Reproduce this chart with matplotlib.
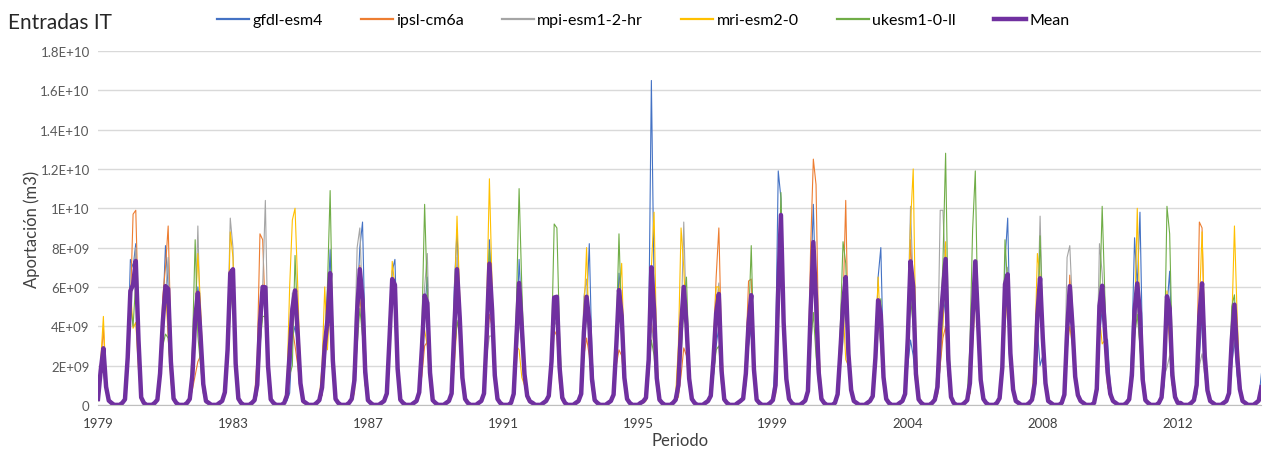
import numpy as np
import matplotlib
matplotlib.use("Agg")
import matplotlib.pyplot as plt

# monthly inflow, Jan..Dec, one row per year 1979-2014, units of 1e9 m3
start_year = 1979
tick_step = 50
tick_labels = ["1979", "1983", "1987", "1991", "1995", "1999", "2004", "2008", "2012"]
y_ticks = [0, 2e9, 4e9, 6e9, 8e9, 1e10, 1.2e10, 1.4e10, 1.6e10, 1.8e10]
y_labels = ["0", "2E+09", "4E+09", "6E+09", "8E+09", "1E+10", "1.2E+10", "1.4E+10", "1.6E+10", "1.8E+10"]

gfdl = [
    [.3, 1.5, 2.2, .8, .2, .1, 0, 0, 0, .1, .3, 2.5],
    [7.4, 7.0, 8.2, 3.5, .4, .1, 0, 0, 0, .1, .3, 1.5],
    [4.5, 8.1, 6.0, 2.0, .3, .1, 0, 0, 0, .1, .3, 1.0],
    [3.5, 6.0, 4.5, 1.2, .2, .1, 0, 0, 0, .1, .2, .5],
    [2.5, 5.5, 6.5, 2.2, .3, .1, 0, 0, 0, .1, .2, .6],
    [3.0, 5.0, 6.0, 2.0, .3, .1, 0, 0, 0, .1, .2, .6],
    [3.4, 4.0, 3.0, 1.0, .2, .1, 0, 0, 0, .1, .2, .5],
    [2.0, 4.5, 7.9, 2.5, .3, .1, 0, 0, 0, .1, .3, 1.0],
    [5.0, 8.0, 9.3, 3.0, .4, .1, 0, 0, 0, .1, .2, .5],
    [3.0, 6.8, 7.4, 2.5, .3, .1, 0, 0, 0, .1, .2, .5],
    [2.5, 4.8, 6.5, 2.0, .3, .1, 0, 0, 0, .1, .2, .6],
    [6.0, 8.9, 5.0, 1.5, .3, .1, 0, 0, 0, .1, .2, .5],
    [4.0, 8.4, 5.5, 1.5, .3, .1, 0, 0, 0, .1, .6, 3.0],
    [7.4, 4.5, 1.8, .5, .2, .1, 0, 0, 0, .1, .2, .4],
    [2.0, 5.0, 5.5, 2.0, .4, .1, 0, 0, 0, .1, .2, .5],
    [3.0, 5.0, 8.2, 2.5, .4, .1, 0, 0, 0, .1, .2, .5],
    [3.0, 6.7, 5.0, 1.5, .3, .1, 0, 0, 0, .1, .2, .4],
    [3.5, 16.5, 6.0, 1.5, .3, .1, 0, 0, 0, .1, .2, .5],
    [3.0, 5.8, 4.0, 1.5, .3, .1, 0, 0, 0, .1, .2, .4],
    [1.5, 3.0, 4.0, 1.2, .2, .1, 0, 0, 0, .1, .2, .3],
    [1.0, 3.0, 3.9, 1.5, .2, .1, 0, 0, 0, .1, .4, 2.5],
    [11.9, 10.5, 4.0, 1.2, .3, .1, 0, 0, 0, .1, .2, .8],
    [6.0, 10.2, 5.0, 1.5, .3, .1, 0, 0, 0, .1, .4, 2.0],
    [4.0, 6.5, 2.5, .8, .2, .1, 0, 0, 0, .1, .2, .4],
    [2.5, 6.5, 8.0, 2.0, .3, .1, 0, 0, 0, .1, .2, .4],
    [2.0, 3.3, 2.5, 1.0, .2, .1, 0, 0, 0, .1, .2, .5],
    [2.0, 4.4, 5.5, 1.5, .3, .1, 0, 0, 0, .1, .2, .6],
    [3.5, 6.5, 5.0, 1.5, .3, .1, 0, 0, 0, .1, .4, 2.5],
    [7.3, 9.5, 3.0, .8, .2, .1, 0, 0, 0, .1, .2, .5],
    [3.8, 2.0, 2.5, .8, .2, .1, 0, 0, 0, .1, .5, 2.5],
    [6.0, 4.0, 1.5, .5, .2, .1, 0, 0, 0, .1, .6, 3.5],
    [4.9, 3.5, 3.3, 1.0, .2, .1, 0, 0, 0, .1, .4, 3.0],
    [8.5, 6.0, 9.8, 2.5, .4, .1, 0, 0, 0, .1, .3, 1.0],
    [5.0, 6.8, 2.0, .5, .1, .1, 0, 0, 0, .1, .2, .5],
    [2.5, 4.5, 2.5, .8, .2, .1, 0, 0, 0, .1, .2, .5],
    [2.0, 3.3, 1.5, .6, .2, .1, 0, 0, 0, .1, .3, 1.6],
]

ipsl = [
    [.4, 2.0, 3.9, 1.2, .3, .1, 0, 0, 0, .1, .2, 2.0],
    [5.0, 9.7, 9.9, 4.5, .6, .1, 0, 0, 0, .1, .3, 1.8],
    [5.5, 7.0, 9.1, 3.5, .5, .1, 0, 0, 0, .1, .2, .8],
    [1.5, 2.2, 2.5, 1.0, .2, .1, 0, 0, 0, .1, .2, .6],
    [2.5, 5.0, 6.0, 2.5, .4, .1, 0, 0, 0, .1, .4, 2.5],
    [8.7, 8.4, 4.5, 1.5, .2, .1, 0, 0, 0, .1, .5, 2.0],
    [3.9, 3.0, 2.0, .8, .1, .1, 0, 0, 0, .1, .2, .5],
    [2.5, 4.2, 4.0, 1.5, .2, .1, 0, 0, 0, .1, .3, 1.0],
    [4.0, 7.1, 5.0, 1.8, .2, .1, 0, 0, 0, .1, .2, .6],
    [3.5, 6.2, 5.5, 1.5, .2, .1, 0, 0, 0, .1, .2, .6],
    [1.5, 3.0, 3.2, 1.2, .2, .1, 0, 0, 0, .1, .2, .4],
    [2.0, 4.2, 3.8, 1.2, .3, .1, 0, 0, 0, .1, .2, .5],
    [2.5, 4.6, 4.0, 1.5, .3, .1, 0, 0, 0, .1, .5, 4.0],
    [5.5, 5.0, 1.8, .5, .2, .1, 0, 0, 0, .1, .2, .4],
    [1.5, 3.8, 3.5, 1.0, .2, .1, 0, 0, 0, .1, .2, .4],
    [2.5, 3.4, 2.5, .8, .2, .1, 0, 0, 0, .1, .2, .4],
    [2.0, 2.8, 2.5, 1.0, .3, .1, 0, 0, 0, .1, .2, .5],
    [2.5, 4.2, 3.0, 1.0, .2, .1, 0, 0, 0, .1, .2, .4],
    [1.5, 2.9, 2.5, 1.0, .3, .1, 0, 0, 0, .1, .2, .6],
    [3.0, 6.5, 9.0, 3.0, .5, .1, 0, 0, 0, .1, .2, .4],
    [2.5, 6.3, 6.4, 2.0, .3, .1, 0, 0, 0, .1, .2, .6],
    [4.0, 9.0, 4.5, 1.5, .3, .1, 0, 0, 0, .1, .3, 1.0],
    [8.0, 12.5, 11.2, 3.0, .5, .1, 0, 0, 0, .1, .5, 2.0],
    [5.0, 10.4, 3.0, .8, .2, .1, 0, 0, 0, .1, .2, .4],
    [2.0, 5.0, 3.0, 1.0, .3, .1, 0, 0, 0, .1, .2, .5],
    [3.5, 8.4, 5.5, 1.2, .2, .1, 0, 0, 0, .1, .2, .5],
    [2.0, 3.4, 4.0, 1.5, .3, .1, 0, 0, 0, .1, .2, .6],
    [3.0, 5.3, 4.0, 1.2, .3, .1, 0, 0, 0, .1, .3, 1.5],
    [5.0, 5.0, 2.0, .7, .2, .1, 0, 0, 0, .1, .3, 1.0],
    [4.0, 5.5, 3.0, 1.0, .2, .1, 0, 0, 0, .1, .5, 3.0],
    [6.6, 4.0, 1.5, .5, .2, .1, 0, 0, 0, .1, .5, 4.0],
    [5.5, 3.0, 1.0, .4, .2, .1, 0, 0, 0, .1, .3, 1.0],
    [4.0, 5.3, 3.5, 1.0, .2, .1, 0, 0, 0, .1, .4, 2.5],
    [4.8, 3.5, 1.0, .3, .1, .1, 0, 0, 0, .1, .3, 1.5],
    [9.3, 9.0, 3.0, .8, .2, .1, 0, 0, 0, .1, .2, .6],
    [3.0, 4.0, 2.0, .8, .2, .1, 0, 0, 0, .1, .2, .8],
]

mpi = [
    [.3, 1.4, 2.1, .9, .2, .1, 0, 0, 0, .1, .3, 2.3],
    [5.5, 6.0, 8.0, 3.8, .4, .1, 0, 0, 0, .1, .2, 1.2],
    [3.5, 5.5, 7.5, 2.8, .4, .1, 0, 0, 0, .1, .3, 1.5],
    [4.0, 9.1, 3.5, 1.0, .2, .1, 0, 0, 0, .1, .2, .8],
    [3.5, 9.5, 8.0, 2.0, .3, .1, 0, 0, 0, .1, .2, .5],
    [2.5, 6.0, 10.4, 3.0, .4, .1, 0, 0, 0, .1, .4, 3.0],
    [5.7, 4.5, 3.0, 1.0, .2, .1, 0, 0, 0, .1, .3, .8],
    [2.0, 4.0, 5.2, 2.0, .3, .1, 0, 0, 0, .1, .4, 2.5],
    [8.0, 9.0, 5.0, 1.5, .2, .1, 0, 0, 0, .1, .2, .5],
    [3.0, 6.5, 6.0, 2.0, .3, .1, 0, 0, 0, .1, .2, .6],
    [3.0, 6.0, 7.7, 2.5, .3, .1, 0, 0, 0, .1, .2, .6],
    [4.0, 7.5, 4.5, 1.5, .3, .1, 0, 0, 0, .1, .2, .5],
    [2.5, 3.5, 3.5, 1.2, .3, .1, 0, 0, 0, .1, .4, 2.0],
    [4.3, 3.0, 1.2, .4, .2, .1, 0, 0, 0, .1, .2, .4],
    [2.0, 4.3, 4.0, 1.5, .3, .1, 0, 0, 0, .1, .2, .8],
    [5.5, 6.4, 4.0, 1.2, .2, .1, 0, 0, 0, .1, .2, .6],
    [3.5, 5.5, 4.0, 1.2, .3, .1, 0, 0, 0, .1, .2, .4],
    [2.0, 4.0, 3.0, 1.0, .2, .1, 0, 0, 0, .1, .2, .6],
    [4.0, 9.3, 4.0, 1.2, .3, .1, 0, 0, 0, .1, .2, .4],
    [2.5, 5.0, 6.2, 2.0, .3, .1, 0, 0, 0, .1, .2, .3],
    [1.5, 3.5, 4.5, 1.5, .2, .1, 0, 0, 0, .1, .2, .6],
    [4.5, 9.0, 4.0, 1.2, .3, .1, 0, 0, 0, .1, .2, .6],
    [3.5, 7.0, 3.5, 1.2, .2, .1, 0, 0, 0, .1, .4, 2.0],
    [3.2, 6.1, 2.5, .7, .2, .1, 0, 0, 0, .1, .2, .5],
    [2.5, 4.1, 3.0, 1.0, .3, .1, 0, 0, 0, .1, .2, .6],
    [4.5, 10.1, 6.0, 1.5, .3, .1, 0, 0, 0, .1, .4, 2.0],
    [9.9, 9.9, 6.5, 2.0, .4, .1, 0, 0, 0, .1, .2, .7],
    [3.5, 7.0, 4.5, 1.5, .3, .1, 0, 0, 0, .1, .4, 2.0],
    [6.0, 7.0, 2.6, .8, .2, .1, 0, 0, 0, .1, .2, .5],
    [4.0, 9.6, 4.0, 1.2, .2, .1, 0, 0, 0, .1, .8, 7.5],
    [8.1, 5.0, 1.5, .5, .2, .1, 0, 0, 0, .1, 1.5, 8.2],
    [6.7, 4.0, 1.5, .5, .2, .1, 0, 0, 0, .1, .3, 1.5],
    [4.0, 5.0, 3.0, 1.0, .2, .1, 0, 0, 0, .1, .3, 1.5],
    [1.9, 2.5, 1.0, .3, .1, .1, 0, 0, 0, .1, .2, .5],
    [2.0, 2.6, 1.5, .5, .2, .1, 0, 0, 0, .1, .2, .5],
    [2.5, 3.5, 2.0, .6, .2, .1, 0, 0, 0, .1, .2, .7],
]

mri = [
    [.3, 2.2, 4.5, 1.0, .2, .1, 0, 0, 0, .1, .4, 3.0],
    [6.0, 3.9, 4.2, 1.8, .2, .1, 0, 0, 0, .1, .3, 2.0],
    [4.5, 6.0, 3.5, 1.2, .2, .1, 0, 0, 0, .1, .3, 1.5],
    [4.5, 7.7, 5.0, 1.5, .3, .1, 0, 0, 0, .1, .2, .7],
    [3.0, 8.8, 7.5, 1.8, .3, .1, 0, 0, 0, .1, .2, .8],
    [3.5, 6.1, 4.5, 1.5, .2, .1, 0, 0, 0, .1, 1.0, 6.0],
    [9.4, 10.0, 6.0, 1.5, .3, .1, 0, 0, 0, .1, .3, 2.0],
    [6.0, 2.8, 5.5, 1.8, .3, .1, 0, 0, 0, .1, .2, .6],
    [4.0, 5.5, 4.0, 1.0, .2, .1, 0, 0, 0, .1, .2, .5],
    [3.0, 7.3, 6.0, 1.2, .2, .1, 0, 0, 0, .1, .2, .8],
    [3.5, 3.8, 3.0, 1.0, .2, .1, 0, 0, 0, .1, .2, .8],
    [5.0, 9.6, 5.5, 1.5, .3, .1, 0, 0, 0, .1, .2, .8],
    [5.0, 11.5, 6.0, 1.5, .3, .1, 0, 0, 0, .1, .5, 3.0],
    [2.8, 1.4, 1.0, .3, .1, .1, 0, 0, 0, .1, .2, .5],
    [2.5, 5.0, 5.5, 1.5, .3, .1, 0, 0, 0, .1, .2, .6],
    [4.5, 8.0, 3.0, 1.0, .2, .1, 0, 0, 0, .1, .2, .5],
    [3.0, 5.5, 7.2, 2.0, .3, .1, 0, 0, 0, .1, .1, .2],
    [2.0, 7.0, 9.8, 2.5, .4, .1, 0, 0, 0, .1, .5, 3.0],
    [9.0, 7.0, 3.5, 1.0, .3, .1, 0, 0, 0, .1, .2, .5],
    [3.0, 6.0, 6.0, 1.5, .2, .1, 0, 0, 0, .1, .2, .3],
    [1.5, 4.0, 5.0, 1.5, .2, .1, 0, 0, 0, .1, .2, .5],
    [4.0, 9.0, 4.5, 1.2, .3, .1, 0, 0, 0, .1, .2, .5],
    [3.5, 7.0, 4.5, 1.5, .3, .1, 0, 0, 0, .1, .6, 3.5],
    [5.0, 2.3, 2.0, .6, .2, .1, 0, 0, 0, .1, .2, .5],
    [3.0, 6.5, 3.5, 1.0, .3, .1, 0, 0, 0, .1, .2, .8],
    [4.0, 9.2, 12.0, 3.0, .5, .1, 0, 0, 0, .1, .2, .6],
    [2.5, 4.0, 8.3, 2.5, .4, .1, 0, 0, 0, .1, .2, .6],
    [3.5, 5.8, 4.0, 1.0, .3, .1, 0, 0, 0, .1, .3, 1.5],
    [4.0, 5.7, 3.0, .8, .2, .1, 0, 0, 0, .1, .4, 2.5],
    [7.7, 6.5, 3.5, 1.0, .2, .1, 0, 0, 0, .1, .4, 3.0],
    [4.0, 3.0, 1.2, .5, .2, .1, 0, 0, 0, .1, .6, 4.5],
    [3.1, 3.3, 1.0, .4, .2, .1, 0, 0, 0, .1, .2, 1.0],
    [4.0, 10.0, 4.0, 1.0, .2, .1, 0, 0, 0, .1, .5, 3.0],
    [5.8, 3.0, 1.0, .3, .1, .1, 0, 0, 0, .1, .2, 1.0],
    [5.0, 8.8, 3.5, 1.0, .2, .1, 0, 0, 0, .1, .2, .8],
    [4.0, 9.1, 4.5, 1.2, .2, .1, 0, 0, 0, .1, .2, .6],
]

ukesm = [
    [.2, 1.6, 1.7, .7, .2, .1, 0, 0, 0, .1, .2, 2.2],
    [5.1, 4.0, 6.3, 3.0, .3, .1, 0, 0, 0, .1, .2, 1.5],
    [3.0, 3.6, 3.4, 1.5, .2, .1, 0, 0, 0, .1, .4, 3.0],
    [8.4, 3.5, 2.0, .6, .1, .1, 0, 0, 0, .1, .2, .6],
    [2.5, 4.7, 6.5, 2.0, .3, .1, 0, 0, 0, .1, .2, .7],
    [3.0, 4.5, 4.5, 1.8, .3, .1, 0, 0, 0, .1, .3, 1.5],
    [2.0, 7.6, 4.0, 1.2, .2, .1, 0, 0, 0, .1, .2, .6],
    [2.5, 6.0, 10.9, 3.5, .4, .1, 0, 0, 0, .1, .3, 1.2],
    [3.0, 4.9, 3.5, 1.0, .2, .1, 0, 0, 0, .1, .2, .8],
    [4.5, 5.2, 5.6, 2.0, .3, .1, 0, 0, 0, .1, .2, .7],
    [4.0, 10.2, 5.5, 1.5, .2, .1, 0, 0, 0, .1, .2, .5],
    [2.5, 4.3, 3.5, 1.2, .3, .1, 0, 0, 0, .1, .2, .6],
    [4.0, 7.9, 5.0, 1.8, .3, .1, 0, 0, 0, .1, .8, 5.0],
    [11.0, 6.0, 2.0, .6, .2, .1, 0, 0, 0, .1, .2, .6],
    [3.0, 9.2, 9.0, 3.5, .6, .1, 0, 0, 0, .1, .2, .5],
    [3.0, 4.7, 3.5, 1.0, .2, .1, 0, 0, 0, .1, .2, .6],
    [3.5, 8.7, 4.0, 1.2, .3, .1, 0, 0, 0, .1, .2, .3],
    [1.5, 3.3, 2.5, .8, .2, .1, 0, 0, 0, .1, .2, .5],
    [2.5, 5.0, 6.5, 2.0, .3, .1, 0, 0, 0, .1, .2, .4],
    [1.5, 2.8, 3.0, 1.0, .2, .1, 0, 0, 0, .1, .2, .3],
    [1.5, 4.0, 8.1, 2.5, .4, .1, 0, 0, 0, .1, .2, .8],
    [5.0, 10.8, 4.0, 1.5, .3, .1, 0, 0, 0, .1, .2, .6],
    [3.0, 4.7, 2.5, 1.0, .2, .1, 0, 0, 0, .1, .8, 4.0],
    [8.3, 7.2, 3.0, .9, .2, .1, 0, 0, 0, .1, .2, .4],
    [2.0, 4.5, 5.4, 2.0, .3, .1, 0, 0, 0, .1, .2, .5],
    [3.0, 5.5, 4.0, 1.2, .2, .1, 0, 0, 0, .1, .3, 1.0],
    [4.0, 7.2, 12.8, 4.0, .6, .1, 0, 0, 0, .1, .4, 3.0],
    [8.9, 11.9, 4.0, 1.2, .3, .1, 0, 0, 0, .1, .3, 2.0],
    [8.4, 6.0, 2.5, .8, .2, .1, 0, 0, 0, .1, .2, 1.0],
    [3.5, 8.6, 4.0, 1.5, .2, .1, 0, 0, 0, .1, .4, 2.5],
    [5.5, 4.0, 1.5, .5, .2, .1, 0, 0, 0, .1, .8, 5.0],
    [10.1, 5.5, 1.5, .5, .2, .1, 0, 0, 0, .1, .2, 1.0],
    [3.5, 4.6, 3.0, 1.0, .2, .1, 0, 0, 0, .1, .4, 2.0],
    [10.1, 8.7, 2.5, .6, .1, .1, 0, 0, 0, .1, .3, 1.5],
    [3.8, 6.0, 2.0, .6, .2, .1, 0, 0, 0, .1, .2, .6],
    [5.0, 5.6, 2.5, .8, .2, .1, 0, 0, 0, .1, .2, .8],
]

series_names = ["gfdl-esm4", "ipsl-cm6a", "mpi-esm1-2-hr", "mri-esm2-0", "ukesm1-0-ll"]
series_colors = ["#4472C4", "#ED7D31", "#A5A5A5", "#FFC000", "#70AD47"]

plt.rcParams["font.family"] = ["Lato", "DejaVu Sans"]

models = [np.array(s).ravel() * 1e9 for s in (gfdl, ipsl, mpi, mri, ukesm)]
mean = np.mean(models, axis=0)
x = np.arange(len(mean))

fig = plt.figure(figsize=(12.66, 4.52), dpi=100)
ax = fig.add_axes([0.0774, 0.102, 0.919, 0.783])

for vals, name, color in zip(models, series_names, series_colors):
    ax.plot(x, vals, color=color, lw=0.8, label=name)
ax.plot(x, mean, color="#7030A0", lw=3.2, label="Mean")

ax.set_xlim(0, len(mean) - 1)
ax.set_ylim(0, 1.8e10)
ax.set_yticks(y_ticks)
ax.set_yticklabels(y_labels, fontsize=9.5, color="#595959")
ax.set_xticks(np.arange(len(tick_labels)) * tick_step)
ax.set_xticklabels(tick_labels, fontsize=9.5, color="#404040")
ax.tick_params(axis="y", length=0, pad=6)
ax.tick_params(axis="x", length=0, pad=9)
ax.grid(axis="y", color="#d9d9d9", lw=1)
ax.set_axisbelow(True)
for side in ["left", "right", "top"]:
    ax.spines[side].set_visible(False)
ax.spines["bottom"].set_color("#bfbfbf")

ax.set_ylabel("Aportación (m3)", fontsize=12, color="#404040", labelpad=0)
ax.set_xlabel("Periodo", fontsize=12, color="#404040", labelpad=2)

fig.text(0.006, 0.95, "Entradas IT", fontsize=15, va="center", color="#262626")
leg = fig.legend(loc="center", bbox_to_anchor=(0.508, 0.953), ncol=6, frameon=False,
                 fontsize=11.5, handlelength=2.0, handletextpad=0.2, columnspacing=2.4)
for line in leg.get_lines()[:-1]:
    line.set_linewidth(1.6)

fig.savefig("out.png", dpi=100)
